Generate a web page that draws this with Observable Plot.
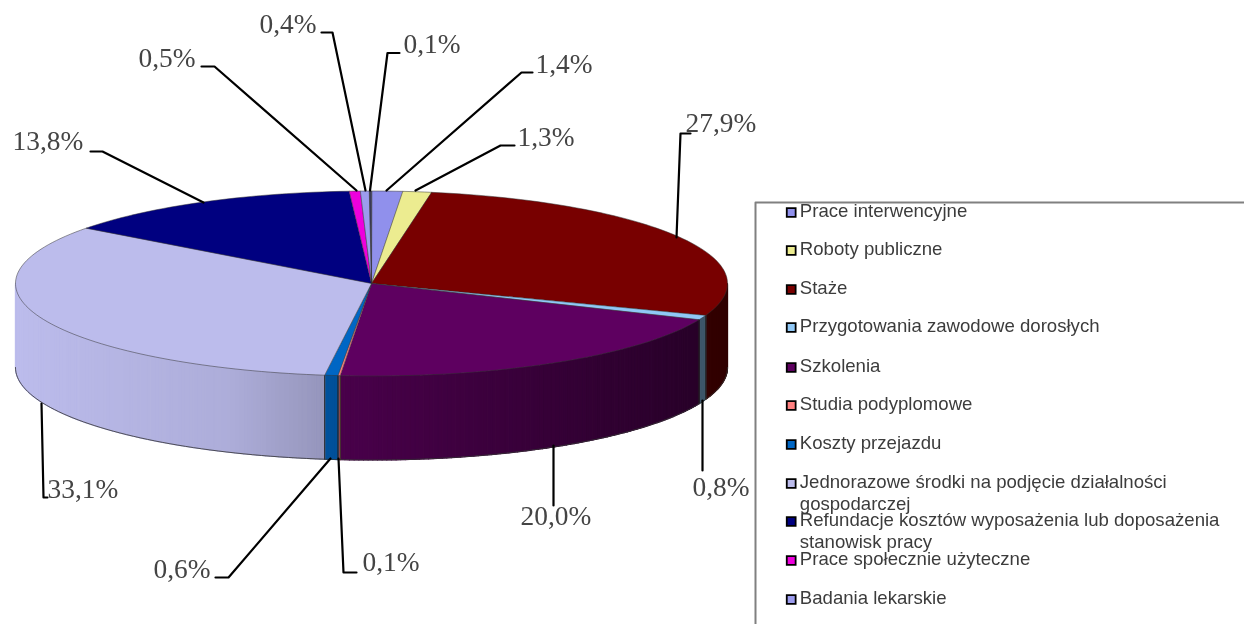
<!DOCTYPE html>
<html><head><meta charset="utf-8">
<style>html,body{margin:0;padding:0;background:#fff}svg{display:block;filter:blur(0.4px)}</style>
<script src="https://cdn.jsdelivr.net/npm/d3@7"></script>
<script src="https://cdn.jsdelivr.net/npm/@observablehq/plot@0.6"></script>
</head><body><div id="chart"></div>
<script>
const categories = ["Prace interwencyjne","Roboty publiczne","Staże","Przygotowania zawodowe dorosłych","Szkolenia","Studia podyplomowe","Koszty przejazdu","Jednorazowe środki na podjęcie działalności\ngospodarczej","Refundacje kosztów wyposażenia lub doposażenia\nstanowisk pracy","Prace społecznie użyteczne","Badania lekarskie","Pozostałe"];
const values = [1.4,1.3,27.9,0.8,20.0,0.1,0.6,33.1,13.8,0.5,0.4,0.1];
const colors = ["#9090ec","#ecec90","#780000","#90c8f6","#5e0060","#ff8080","#0066c4","#bcbcec","#000080","#ee00dd","#9c9cee","#3a3a5a"];

// layout of the chart (pixels of the picture)
const CX=371, CY=283, RX=356, RY=92.5, DEPTH=84;
const ux=p=>(p-CX)/RX, uy=p=>(p-CY)/RY;
const labelAt=[[535,64],[517,137],[685,123],[692,487],[520,516],[362,562],[153,569],[47,489],[12,141],[138,58],[259,24],[403,44]];
const leaders=[
 [[386,190],[521,72],[532,72]],
 [[415,190],[500,145],[514,145]],
 [[676,237],[680,133],[690,133]],
 [[702,400],[702,470]],
 [[553,445],[553,505]],
 [[338,458],[343,572],[356,572]],
 [[330,458],[228,577],[215,577]],
 [[41,403],[43,497],[47,497]],
 [[203,202],[102,151],[90,151]],
 [[356,190],[214,66],[201,66]],
 [[365,190],[332,32],[321,32]],
 [[369.5,190],[387,52.5],[399,52.5]]
];
const legendY=[211,249,288,326,366,404,443,482,520,559,598];

const total=d3.sum(values);
const rad=d=>d*Math.PI/180;
const px=t=>Math.sin(rad(t)), py=t=>-Math.cos(rad(t));
const shade=d3.scaleLinear().domain([-1,-0.4,-0.1,1]).range([1,0.92,0.78,0.4]);
let acc=0;
const slices=values.map((v,i)=>{const a0=acc/total*360;acc+=v;return {i,a0,a1:acc/total*360,color:colors[i]};});

// side wall quads of the front half
const sideVerts=[], sideEdges=[];
slices.forEach(s=>{
  const a=Math.max(s.a0,90), b=Math.min(s.a1,270);
  if(b<=a) return;
  const n=Math.max(1,Math.ceil((b-a)/0.75));
  for(let k=0;k<n;k++){
    const t0=a+(b-a)*k/n, t1=a+(b-a)*(k+1)/n, xm=px((t0+t1)/2);
    const c=d3.rgb(s.color), f=shade(xm);
    const col=d3.rgb(c.r*f,c.g*f,c.b*f).formatHex();
    const id=`${s.i}-${k}`, d=DEPTH/RY;
    [[t0,0],[t1,0],[t1,d],[t0,d]].forEach(([t,o])=>sideVerts.push({id,col,x:px(t),y:py(t)+o}));
  }
  [s.a0,s.a1].forEach(t=>{ if(t>=90&&t<=270){const id=`e${s.i}-${t}`;
    sideEdges.push({id,x:px(t),y:py(t)},{id,x:px(t),y:py(t)+DEPTH/RY});}});
});
// bottom rim and outer silhouette
const rim=[];
for(let t=90;t<=270;t+=1.5) rim.push({x:px(t),y:py(t)+DEPTH/RY});
// top face wedges
const topVerts=[];
slices.forEach(s=>{
  topVerts.push({id:s.i,col:s.color,x:0,y:0});
  const n=Math.max(1,Math.ceil((s.a1-s.a0)/1.5));
  for(let k=0;k<=n;k++){const t=s.a0+(s.a1-s.a0)*k/n;topVerts.push({id:s.i,col:s.color,x:px(t),y:py(t)});}
});
const leaderPts=leaders.flatMap((l,i)=>l.map(([x,y])=>({id:i,x:ux(x),y:uy(y)})));
const dataLabels=values.map((v,i)=>({t:v.toFixed(1).replace(".",",")+"%",x:ux(labelAt[i][0]),y:uy(labelAt[i][1])}));
const legend=categories.slice(0,11).map((t,i)=>({t,c:colors[i],y:uy(legendY[i]),ys:uy(legendY[i]+1)}));
const bx=[{x:ux(1244),y:uy(202)},{x:ux(755),y:uy(202)},{x:ux(755),y:uy(624)}];

const chart=Plot.plot({
  width:1244,height:624,margin:0,
  x:{domain:[ux(0),ux(1244)],range:[0,1244],axis:null},
  y:{domain:[uy(0),uy(624)],range:[0,624],axis:null},
  color:{type:"identity"},
  marks:[
    Plot.line(sideVerts,{x:"x",y:"y",z:"id",fill:"col",stroke:"col",strokeWidth:1.2,curve:"linear-closed"}),
    Plot.line(sideEdges,{x:"x",y:"y",z:"id",stroke:"#222",strokeWidth:0.7}),
    Plot.line(rim,{x:"x",y:"y",stroke:"#333",strokeWidth:0.8}),
    Plot.line(topVerts,{x:"x",y:"y",z:"id",fill:"col",stroke:"#333",strokeWidth:0.5,curve:"linear-closed"}),
    Plot.line(leaderPts,{x:"x",y:"y",z:"id",stroke:"#000",strokeWidth:2.2}),
    Plot.text(dataLabels,{x:"x",y:"y",text:"t",textAnchor:"start",lineAnchor:"middle",fontFamily:"Liberation Serif",fontSize:27.4,fill:"#444"}),
    Plot.line(bx,{x:"x",y:"y",stroke:"#808080",strokeWidth:2}),
    Plot.dot(legend,{x:()=>ux(790.7),y:"ys",symbol:"square",r:5,fill:"c",stroke:"#000",strokeWidth:1.8}),
    Plot.text(legend,{x:()=>ux(799.3),y:"y",text:"t",textAnchor:"start",lineAnchor:"top",dy:-9.5,fontFamily:"Liberation Sans",fontSize:18.6,lineHeight:1.17,fill:"#3c3c3c"})
  ]
});
document.getElementById("chart").append(chart);
</script></body></html>
